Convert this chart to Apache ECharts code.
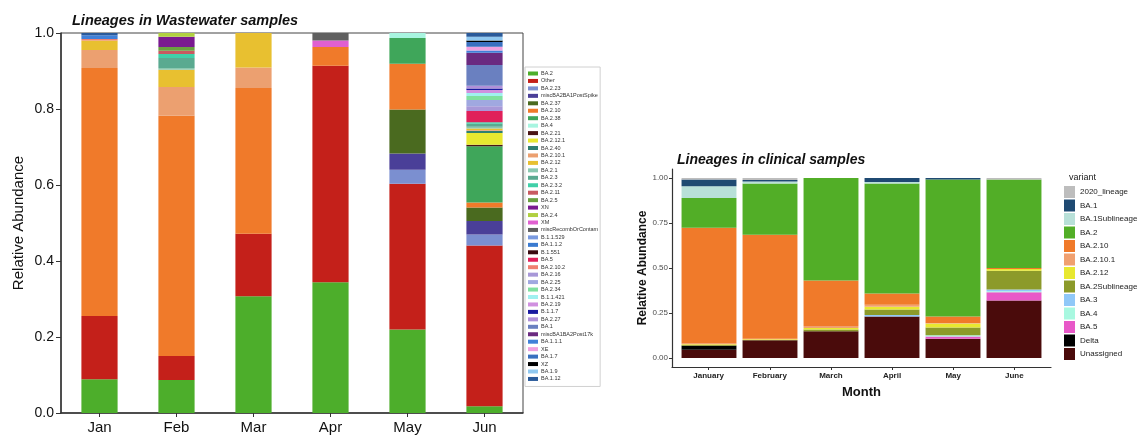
<!DOCTYPE html>
<html>
<head>
<meta charset="utf-8">
<script src="https://cdn.jsdelivr.net/npm/echarts@6.0.0/dist/echarts.min.js"></script>
<style>
html,body{margin:0;padding:0;background:#fff;}
#chart{width:1138px;height:435px;}
</style>
</head>
<body>
<div id="chart"></div>
<script>
// ---------- Wastewater panel (left) ----------
const wwMonths = ['Jan', 'Feb', 'Mar', 'Apr', 'May', 'Jun'];
const wwLineages = [
  'BA.2', 'Other', 'BA.2.23', 'miscBA2BA1PostSpike', 'BA.2.37', 'BA.2.10', 'BA.2.38',
  'BA.4', 'BA.2.21', 'BA.2.12.1', 'BA.2.40', 'BA.2.10.1', 'BA.2.12', 'BA.2.1',
  'BA.2.3', 'BA.2.3.2', 'BA.2.11', 'BA.2.5', 'XN', 'BA.2.4', 'XM',
  'miscRecombOrContam', 'B.1.1.529', 'BA.1.1.2', 'B.1.551', 'BA.5', 'BA.2.10.2', 'BA.2.16',
  'BA.2.25', 'BA.2.34', 'B.1.1.421', 'BA.2.19', 'B.1.1.7', 'BA.2.27', 'BA.1',
  'miscBA1BA2Post17k', 'BA.1.1.1', 'XE', 'BA.1.7', 'XZ', 'BA.1.9', 'BA.1.12'
];
const wwColors = [
  '#4dae2b', '#c4201a', '#7b8fd0', '#4a3f98', '#4a6a1f', '#f07a2a', '#3fa65a',
  '#a8f5e0', '#4a1515', '#e8e830', '#2f7f72', '#eca070', '#e8c030', '#8ac8b0',
  '#5aaa90', '#40d0a8', '#c85a60', '#6aa040', '#7a1a90', '#b0d040', '#e060d0',
  '#606060', '#7a9ae0', '#3a7ad0', '#3a0a10', '#e0205a', '#f08070', '#a898d8',
  '#a0a8e0', '#80e0a0', '#a0f0f0', '#d090e0', '#1a1aa0', '#b090d8', '#6a80c0',
  '#6a2a80', '#4080d8', '#f0a0e0', '#3a70c0', '#000000', '#90c8f0', '#2a5a9a'
];
// values per month, aligned with wwLineages (rows of 7)
const wwJan = [
  0.089, 0.166, 0, 0, 0, 0.653, 0,
  0, 0, 0, 0, 0.047, 0.025, 0,
  0, 0, 0, 0, 0, 0, 0,
  0, 0, 0, 0, 0, 0.004, 0,
  0, 0, 0, 0, 0, 0, 0,
  0, 0.010, 0, 0, 0, 0, 0.006
];
const wwFeb = [
  0.087, 0.063, 0, 0, 0, 0.632, 0,
  0, 0, 0, 0, 0.076, 0.045, 0.005,
  0.026, 0.011, 0.008, 0.010, 0.027, 0.010, 0,
  0, 0, 0, 0, 0, 0, 0,
  0, 0, 0, 0, 0, 0, 0,
  0, 0, 0, 0, 0, 0, 0
];
const wwMar = [
  0.307, 0.165, 0, 0, 0, 0.383, 0,
  0, 0, 0, 0, 0.054, 0.091, 0,
  0, 0, 0, 0, 0, 0, 0,
  0, 0, 0, 0, 0, 0, 0,
  0, 0, 0, 0, 0, 0, 0,
  0, 0, 0, 0, 0, 0, 0
];
const wwApr = [
  0.344, 0.570, 0, 0, 0, 0.049, 0,
  0, 0, 0, 0, 0, 0, 0,
  0, 0, 0, 0, 0, 0, 0.017,
  0.020, 0, 0, 0, 0, 0, 0,
  0, 0, 0, 0, 0, 0, 0,
  0, 0, 0, 0, 0, 0, 0
];
const wwMay = [
  0.220, 0.383, 0.037, 0.043, 0.116, 0.120, 0.068,
  0.013, 0, 0, 0, 0, 0, 0,
  0, 0, 0, 0, 0, 0, 0,
  0, 0, 0, 0, 0, 0, 0,
  0, 0, 0, 0, 0, 0, 0,
  0, 0, 0, 0, 0, 0, 0
];
const wwJun = [
  0.018, 0.423, 0.029, 0.035, 0.036, 0.013, 0.148,
  0, 0.004, 0.031, 0.006, 0.002, 0.004, 0.004,
  0.008, 0.004, 0, 0, 0, 0, 0,
  0, 0, 0, 0, 0.030, 0, 0.012,
  0.017, 0.010, 0.008, 0.008, 0.004, 0.007, 0.055,
  0.032, 0.006, 0.010, 0.012, 0.004, 0.010, 0.010
];
const wwYTicks = [0, 0.2, 0.4, 0.6, 0.8, 1.0];

// ---------- Clinical panel (right) ----------
const clMonths = ['January', 'February', 'March', 'April', 'May', 'June'];
const clMonthPos = [1, 2, 3, 4, 5, 6];
// stacking order, bottom to top
const clVariants = ['Unassigned', 'Delta', 'BA.5', 'BA.4', 'BA.3', 'BA.2Sublineage',
  'BA.2.12', 'BA.2.10.1', 'BA.2.10', 'BA.2', 'BA.1Sublineage', 'BA.1', '2020_lineage'];
const clColors = ['#4a0b0b', '#000000', '#e858c8', '#a8f8e0', '#90c8f8', '#8c9a2a',
  '#e8e830', '#f0a070', '#f07a2a', '#52ae27', '#b8e0d8', '#1f4a72', '#bdbdbd'];
// values per month, aligned with clVariants
const clJan = [0.046, 0.022, 0, 0, 0, 0.004, 0.004, 0.004, 0.644, 0.165, 0.065, 0.037, 0.009];
const clFeb = [0.098, 0, 0, 0, 0, 0.002, 0.004, 0.003, 0.578, 0.284, 0.012, 0.008, 0.011];
const clMar = [0.148, 0, 0, 0, 0, 0.011, 0.008, 0.011, 0.253, 0.569, 0, 0, 0];
const clApr = [0.231, 0, 0, 0, 0.008, 0.030, 0.016, 0.011, 0.063, 0.610, 0.009, 0.022, 0];
const clMay = [0.107, 0, 0.013, 0.006, 0, 0.044, 0.021, 0.004, 0.036, 0.760, 0, 0.009, 0];
const clJun = [0.319, 0, 0.046, 0.006, 0.009, 0.105, 0.009, 0, 0.006, 0.491, 0, 0, 0.009];
const clYTicks = [0, 0.25, 0.5, 0.75, 1.0];

// ---------- build ----------
const wwByMonth = [wwJan, wwFeb, wwMar, wwApr, wwMay, wwJun];
const clByMonth = [clJan, clFeb, clMar, clApr, clMay, clJun];

const series = [];
wwLineages.forEach((name, i) => {
  series.push({
    name: name, type: 'bar', stack: 'ww', xAxisIndex: 0, yAxisIndex: 0,
    barWidth: '47%', itemStyle: { color: wwColors[i] },
    emphasis: { disabled: true }, animation: false,
    data: wwByMonth.map(m => m[i])
  });
});
clVariants.forEach((name, i) => {
  series.push({
    name: name, type: 'bar', stack: 'cl', xAxisIndex: 1, yAxisIndex: 1,
    barWidth: '90%', itemStyle: { color: clColors[i] },
    emphasis: { disabled: true }, animation: false,
    data: clByMonth.map(m => m[i])
  });
});

const clLegendOrder = clVariants.map((n, i) => i).reverse();

const option = {
  backgroundColor: '#ffffff',
  animation: false,
  textStyle: { fontFamily: 'Liberation Sans, Arial, sans-serif' },
  title: [
    { text: 'Lineages in Wastewater samples', left: 67, top: 8,
      textStyle: { fontSize: 14.5, fontWeight: 'bold', fontStyle: 'italic', color: '#111' } },
    { text: 'Lineages in clinical samples', left: 672, top: 148,
      textStyle: { fontSize: 14, fontWeight: 'bold', fontStyle: 'italic', color: '#111' } },
    { text: 'variant', left: 1064, top: 168,
      textStyle: { fontSize: 9, fontWeight: 'normal', color: '#222' } }
  ],
  legend: [
    {
      orient: 'vertical', left: 525, top: 67,
      padding: [3, 2, 4, 3],
      borderColor: '#d0d0d0', borderWidth: 1,
      itemWidth: 10, itemHeight: 4, itemGap: 0.45, icon: 'rect',
      selectedMode: false,
      textStyle: { fontSize: 5.5, lineHeight: 7, color: '#333', padding: [0, 0, 0, -2] },
      data: wwLineages.map((n, i) => ({ name: n, itemStyle: { color: wwColors[i] } }))
    },
    {
      orient: 'vertical', left: 1064, top: 186,
      padding: 0,
      itemWidth: 11, itemHeight: 12, itemGap: 1.5, icon: 'rect',
      selectedMode: false,
      textStyle: { fontSize: 8, color: '#222' },
      data: clLegendOrder.map(i => ({ name: clVariants[i], itemStyle: { color: clColors[i] } }))
    }
  ],
  grid: [
    { left: 61, right: 615, top: 33, bottom: 21, show: true, borderColor: '#444', borderWidth: 1 },
    { left: 678.5, right: 93.5, top: 169, bottom: 68 },
    { left: 672, right: 87, top: 169, bottom: 68 }
  ],
  xAxis: [
    {
      gridIndex: 0, type: 'category', data: wwMonths,
      axisLine: { lineStyle: { color: '#333', width: 1.5 } },
      axisTick: { show: true, alignWithLabel: true, length: 4, lineStyle: { color: '#333' } },
      axisLabel: { fontSize: 15, color: '#111', margin: 7 },
      splitLine: { show: false }
    },
    {
      gridIndex: 1, type: 'category', data: clMonths, show: false
    },
    {
      gridIndex: 2, type: 'value', min: 0.4, max: 6.6,
      name: 'Month', nameLocation: 'middle', nameGap: 19,
      nameTextStyle: { fontSize: 13, fontWeight: 'bold', color: '#111' },
      axisLine: { show: true, onZero: false, lineStyle: { color: '#333', width: 1.2 } },
      axisTick: { show: true, length: 3, customValues: clMonthPos, lineStyle: { color: '#333' } },
      axisLabel: { fontSize: 8, fontWeight: 'bold', color: '#222', margin: 5,
        customValues: clMonthPos, formatter: v => clMonths[Math.round(v) - 1] },
      splitLine: { show: false }
    }
  ],
  yAxis: [
    {
      gridIndex: 0, type: 'value', min: 0, max: 1, interval: 0.2,
      name: 'Relative Abundance', nameLocation: 'middle', nameGap: 35,
      nameTextStyle: { fontSize: 15, color: '#111' },
      axisLine: { show: true, lineStyle: { color: '#333', width: 1.5 } },
      axisTick: { show: true, length: 5, lineStyle: { color: '#333' } },
      axisLabel: { fontSize: 14, color: '#111', margin: 7, customValues: wwYTicks,
        formatter: v => v.toFixed(1) },
      splitLine: { show: false }
    },
    {
      gridIndex: 1, type: 'value', min: -0.05, max: 1.05, show: false,
      splitLine: { show: false }
    },
    {
      gridIndex: 2, type: 'value', min: -0.05, max: 1.05,
      name: 'Relative Abundance', nameLocation: 'middle', nameGap: 22,
      nameTextStyle: { fontSize: 12, fontWeight: 'bold', color: '#111' },
      axisLine: { show: true, onZero: false, lineStyle: { color: '#333', width: 1.2 } },
      axisTick: { show: true, length: 3, customValues: clYTicks, lineStyle: { color: '#333' } },
      axisLabel: { fontSize: 8, color: '#4d4d4d', margin: 4, customValues: clYTicks,
        formatter: v => v.toFixed(2) },
      splitLine: { show: false }
    }
  ],
  series: series
};

const chart = echarts.init(document.getElementById('chart'), null, { renderer: 'canvas' });
chart.setOption(option);
</script>
</body>
</html>
